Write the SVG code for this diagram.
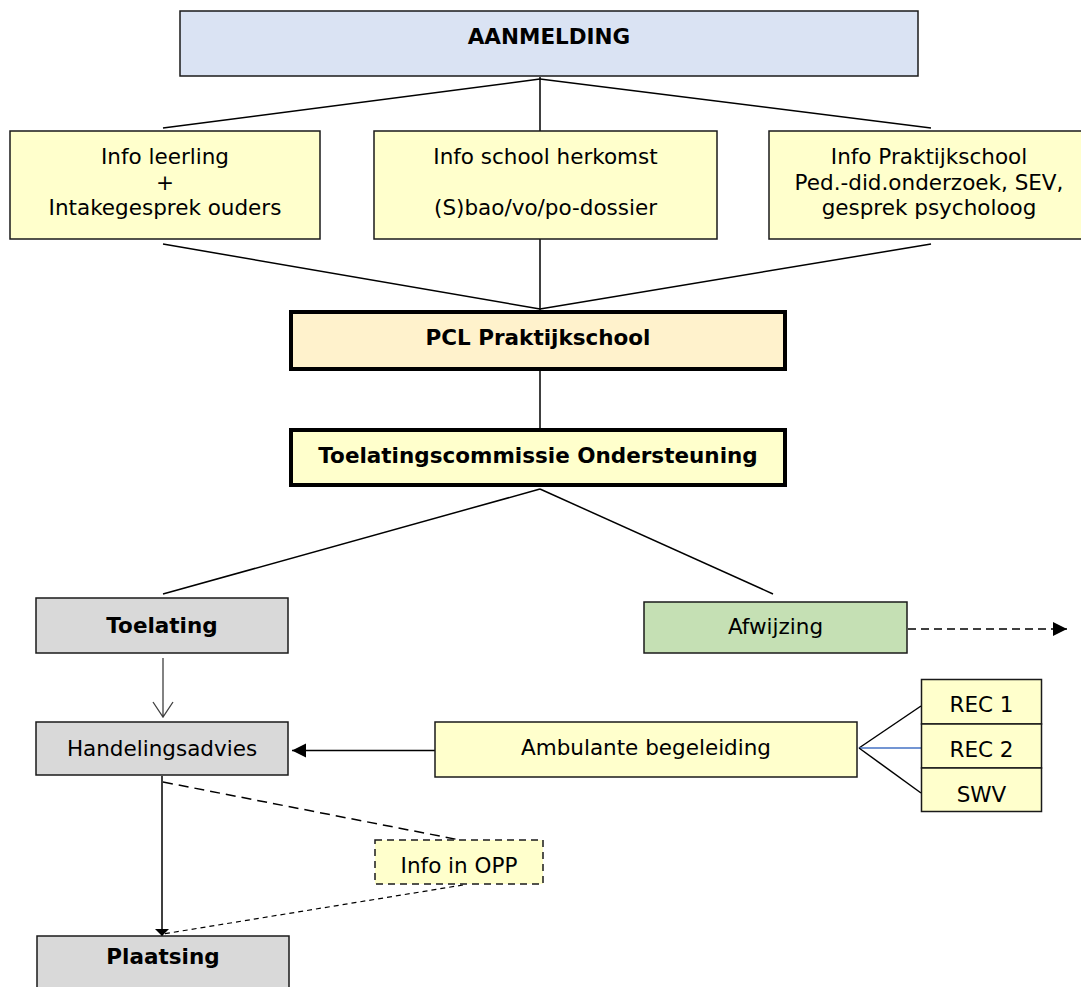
<svg xmlns="http://www.w3.org/2000/svg" width="1081" height="987" viewBox="0 0 1081 987">
<style>
text{font-family:Verdana,"DejaVu Sans",sans-serif;font-size:21.5px;fill:#000;text-anchor:middle}
.b{font-weight:bold}
.box{stroke:#1a1a1a;stroke-width:1.5}
.thick{stroke:#000;stroke-width:4}
.blue{fill:#dae3f3}.yel{fill:#ffffcc}.org{fill:#fff2cc}.gry{fill:#d9d9d9}.grn{fill:#c5e0b4}
.ln{stroke:#000;stroke-width:1.5;fill:none}
</style>
<defs>
<marker id="tri" markerWidth="16" markerHeight="16" refX="14" refY="7" orient="auto" markerUnits="userSpaceOnUse">
<path d="M0,0 L14,7 L0,14 Z" fill="#000"/>
</marker>
<marker id="triS" markerWidth="16" markerHeight="16" refX="7" refY="7" orient="auto" markerUnits="userSpaceOnUse">
<path d="M0,0 L7,7 L0,14 Z" fill="#000"/>
</marker>
</defs>
<g id="connectors">
<line class="ln" x1="540" y1="79" x2="163" y2="128"/>
<line class="ln" x1="540" y1="77" x2="540" y2="131"/>
<line class="ln" x1="540" y1="79" x2="931" y2="128"/>
<line class="ln" x1="163" y1="244" x2="540" y2="309"/>
<line class="ln" x1="540" y1="239" x2="540" y2="310"/>
<line class="ln" x1="931" y1="244" x2="540" y2="309"/>
<line class="ln" x1="540" y1="370" x2="540" y2="428"/>
<line class="ln" x1="540" y1="489" x2="163" y2="594"/>
<line class="ln" x1="540" y1="489" x2="773" y2="594"/>
<path d="M163,658 V717 M153,702 L163,717 L173,702" stroke="#404040" stroke-width="1.3" fill="none"/>
<line class="ln" x1="435" y1="750.5" x2="292" y2="750.5" marker-end="url(#tri)"/>
<line class="ln" x1="908" y1="629" x2="1067" y2="629" stroke-dasharray="8,5" marker-end="url(#tri)"/>
<line class="ln" x1="859" y1="748" x2="921" y2="706"/>
<line x1="859" y1="748" x2="921" y2="748" stroke="#4472c4" stroke-width="1.3"/>
<line class="ln" x1="859" y1="748" x2="921" y2="793"/>
<line class="ln" x1="162" y1="776" x2="162" y2="936" marker-end="url(#triS)"/>
<line class="ln" x1="163" y1="782" x2="460" y2="840" stroke-dasharray="10,6"/>
<line x1="463" y1="885" x2="163" y2="934" stroke="#000" stroke-width="1.2" stroke-dasharray="5,4"/>
</g>
<g id="aanmelding">
<rect class="box blue" x="180" y="11" width="738" height="65"/>
<text class="b" x="549" y="44">AANMELDING</text>
</g>
<g id="info-leerling">
<rect class="box yel" x="10" y="131" width="310" height="108"/>
<text x="165" y="164">Info leerling</text>
<text x="165" y="190">+</text>
<text x="165" y="215">Intakegesprek ouders</text>
</g>
<g id="info-school">
<rect class="box yel" x="374" y="131" width="343" height="108"/>
<text x="545.5" y="164">Info school herkomst</text>
<text x="545.5" y="215">(S)bao/vo/po-dossier</text>
</g>
<g id="info-praktijkschool">
<rect class="box yel" x="769" y="131" width="322" height="108"/>
<text x="929" y="164">Info Praktijkschool</text>
<text x="929" y="190">Ped.-did.onderzoek, SEV,</text>
<text x="929" y="215">gesprek psycholoog</text>
</g>
<g id="pcl">
<rect class="thick org" x="291" y="312" width="494" height="57"/>
<text class="b" x="538" y="345">PCL Praktijkschool</text>
</g>
<g id="toelatingscommissie">
<rect class="thick yel" x="291" y="430" width="494" height="55"/>
<text class="b" x="538" y="463">Toelatingscommissie Ondersteuning</text>
</g>
<g id="toelating">
<rect class="box gry" x="36" y="598" width="252" height="55"/>
<text class="b" x="162" y="633">Toelating</text>
</g>
<g id="afwijzing">
<rect class="box grn" x="644" y="602" width="263" height="51"/>
<text x="775.5" y="634">Afwijzing</text>
</g>
<g id="handelingsadvies">
<rect class="box gry" x="36" y="722" width="252" height="53"/>
<text x="162" y="756">Handelingsadvies</text>
</g>
<g id="ambulante-begeleiding">
<rect class="box yel" x="435" y="722" width="422" height="55"/>
<text x="646" y="755">Ambulante begeleiding</text>
</g>
<g id="rec1">
<rect class="box yel" x="921.5" y="679.5" width="120" height="44.5"/>
<text x="981.5" y="711.5">REC 1</text>
</g>
<g id="rec2">
<rect class="box yel" x="921.5" y="724" width="120" height="44"/>
<text x="981.5" y="756.5">REC 2</text>
</g>
<g id="swv">
<rect class="box yel" x="921.5" y="768" width="120" height="43.5"/>
<text x="981.5" y="801.5">SWV</text>
</g>
<g id="info-opp">
<rect class="yel" x="375" y="840" width="168" height="44" stroke="#1a1a1a" stroke-width="1.5" stroke-dasharray="7,5"/>
<text x="459" y="873">Info in OPP</text>
</g>
<g id="plaatsing">
<rect class="box gry" x="37" y="936" width="252" height="60"/>
<text class="b" x="163" y="964">Plaatsing</text>
</g>
</svg>
